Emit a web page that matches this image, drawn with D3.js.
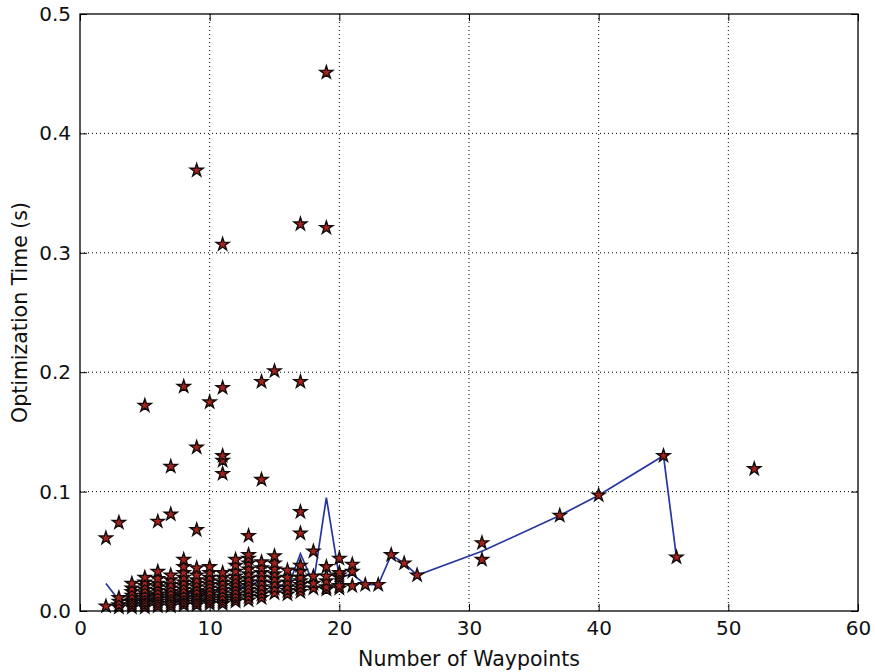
<!DOCTYPE html>
<html><head><meta charset="utf-8">
<script src="https://cdn.jsdelivr.net/npm/d3@7"></script>
<style>body{margin:0;background:#fff}svg{display:block}text{font-family:"DejaVu Sans",sans-serif}</style>
</head><body>
<svg id="c" width="875" height="672"></svg>
<script>
// Scatter columns: number of waypoints -> optimization times (s)
const waypoints = [2,3,4,5,6,7,8,9,10,11,12,13,14,15,16,17,18,19,20,21,22,23,24,25,26,31,37,40,45,46,52];
const times = [
  [0.004, 0.061],
  [0.003, 0.005, 0.008, 0.011, 0.074],
  [0.003, 0.005, 0.007, 0.009, 0.011, 0.013, 0.016, 0.019, 0.023],
  [0.003, 0.005, 0.007, 0.009, 0.011, 0.013, 0.015, 0.018, 0.021, 0.024, 0.028, 0.172],
  [0.004, 0.006, 0.008, 0.010, 0.012, 0.014, 0.017, 0.020, 0.023, 0.027, 0.033, 0.075],
  [0.004, 0.006, 0.008, 0.010, 0.012, 0.014, 0.016, 0.019, 0.022, 0.026, 0.030, 0.081, 0.121],
  [0.005, 0.007, 0.009, 0.011, 0.013, 0.015, 0.018, 0.021, 0.024, 0.028, 0.032, 0.037, 0.043, 0.188],
  [0.005, 0.007, 0.009, 0.011, 0.013, 0.015, 0.017, 0.020, 0.023, 0.026, 0.030, 0.036, 0.068, 0.137, 0.369],
  [0.006, 0.008, 0.010, 0.012, 0.014, 0.016, 0.019, 0.022, 0.025, 0.028, 0.032, 0.037, 0.175],
  [0.006, 0.008, 0.010, 0.012, 0.015, 0.018, 0.021, 0.024, 0.028, 0.032, 0.115, 0.126, 0.130, 0.187, 0.307],
  [0.008, 0.010, 0.012, 0.014, 0.017, 0.020, 0.023, 0.026, 0.029, 0.033, 0.038, 0.043],
  [0.009, 0.012, 0.015, 0.018, 0.021, 0.024, 0.027, 0.031, 0.035, 0.040, 0.044, 0.047, 0.063],
  [0.011, 0.014, 0.017, 0.020, 0.024, 0.028, 0.032, 0.036, 0.041, 0.110, 0.192],
  [0.015, 0.019, 0.023, 0.027, 0.031, 0.035, 0.040, 0.046, 0.201],
  [0.014, 0.017, 0.020, 0.024, 0.028, 0.034],
  [0.016, 0.019, 0.022, 0.025, 0.028, 0.033, 0.038, 0.065, 0.083, 0.192, 0.324],
  [0.019, 0.023, 0.029, 0.050],
  [0.018, 0.020, 0.025, 0.029, 0.037, 0.321, 0.451],
  [0.019, 0.021, 0.028, 0.030, 0.032, 0.044],
  [0.021, 0.033, 0.039],
  [0.022],
  [0.022],
  [0.047],
  [0.040],
  [0.030],
  [0.043, 0.057],
  [0.080],
  [0.097],
  [0.130],
  [0.045],
  [0.119]
];
// Mean line
const meanX = [2,3,4,5,6,7,8,9,10,11,12,13,14,15,16,17,18,19,20,21,22,23,24,25,26,31,37,40,45,46];
const meanY = [0.023,0.009,0.010,0.010,0.011,0.012,0.014,0.017,0.016,0.019,0.019,0.021,0.026,0.023,0.019,0.048,0.023,0.095,0.028,0.031,0.022,0.022,0.047,0.040,0.030,0.050,0.080,0.097,0.130,0.045];
const xTicks = [0,10,20,30,40,50,60];
const yTicks = [0.0,0.1,0.2,0.3,0.4,0.5];

const svg = d3.select("#c");
const L=80, R=858, T=14, B=611;
const x = d3.scaleLinear().domain([0,60]).range([L,R]);
const y = d3.scaleLinear().domain([0,0.5]).range([B,T]);

// grid
const g = svg.append("g");
g.selectAll(".gx").data(xTicks.slice(1,-1)).join("line")
  .attr("x1",d=>x(d)).attr("x2",d=>x(d)).attr("y1",T).attr("y2",B)
  .attr("stroke","#000").attr("stroke-width",1).attr("stroke-dasharray","1,3");
g.selectAll(".gy").data(yTicks.slice(1,-1)).join("line")
  .attr("y1",d=>y(d)).attr("y2",d=>y(d)).attr("x1",L).attr("x2",R)
  .attr("stroke","#000").attr("stroke-width",1).attr("stroke-dasharray","1,3");

// mean line
const line = d3.line().x((d,i)=>x(meanX[i])).y(d=>y(d));
svg.append("path").datum(meanY).attr("d",line)
  .attr("fill","none").attr("stroke","#2636a0").attr("stroke-width",1.7);

// stars
const pts = [];
waypoints.forEach((w,i)=>times[i].forEach(t=>pts.push([w,t])));
const star = d3.symbol().type(d3.symbolStar).size(52);
svg.append("g").selectAll("path").data(pts).join("path")
  .attr("d",star).attr("transform",d=>`translate(${x(d[0])},${y(d[1])})`)
  .attr("fill","#a8221b").attr("stroke","#140c0c").attr("stroke-width",1.4);

// axes (inward ticks, matplotlib classic)
const ax = svg.append("g");
const xb = d3.axisBottom(x).tickValues(xTicks).tickSize(-7).tickPadding(10).tickFormat(d3.format("d"));
const xt = d3.axisTop(x).tickValues(xTicks).tickSize(-7).tickFormat("");
const yl = d3.axisLeft(y).tickValues(yTicks).tickSize(-7).tickPadding(9).tickFormat(d3.format(".1f"));
const yr = d3.axisRight(y).tickValues(yTicks).tickSize(-7).tickFormat("");
[[xb,`translate(0,${B})`],[xt,`translate(0,${T})`],[yl,`translate(${L},0)`],[yr,`translate(${R},0)`]].forEach(([a,tr])=>{
  const gg = ax.append("g").attr("transform",tr).call(a);
  gg.select(".domain").remove();
  gg.selectAll("line").attr("stroke","#000").attr("stroke-width",1);
  gg.selectAll("text").attr("font-size",20).attr("fill","#111").attr("font-family","DejaVu Sans");
});
svg.append("rect").attr("x",L).attr("y",T).attr("width",R-L).attr("height",B-T)
  .attr("fill","none").attr("stroke","#000").attr("stroke-width",1.3);

svg.append("text").attr("x",(L+R)/2).attr("y",666).attr("text-anchor","middle")
  .attr("font-size",20.5).attr("fill","#111").text("Number of Waypoints");
svg.append("text").attr("transform",`translate(27,${(T+B)/2}) rotate(-90)`).attr("text-anchor","middle")
  .attr("font-size",20.5).attr("fill","#111").text("Optimization Time (s)");
</script>
</body></html>
